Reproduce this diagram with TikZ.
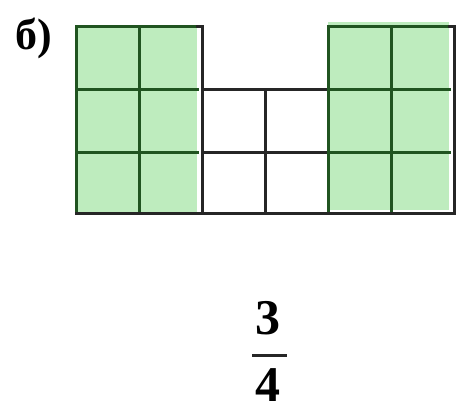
\documentclass[tikz,border=0pt]{standalone}
\usepackage{fontspec}
\usepackage{tikz}
\newfontfamily\labelfont{Liberation Serif}
\definecolor{cellgreen}{RGB}{190,236,190}
\definecolor{linegreen}{RGB}{32,84,32}
\definecolor{lineblack}{RGB}{38,38,38}
\begin{document}
\begin{tikzpicture}[x=1pt,y=1pt,
    gridline/.style={line width=3pt,lineblack,line cap=rect},
    greenline/.style={line width=3pt,linegreen,line cap=rect},
    txt/.style={inner sep=0pt,font=\labelfont}]
        \useasboundingbox (0,0) rectangle (457,412);
        % shaded parts
        \fill[cellgreen] (76,198) rectangle (197,385);
        \fill[cellgreen] (328,202) rectangle (449,390);
        % middle block
        \draw[gridline] (202,322) -- (328,322);
        \draw[gridline] (202,259) -- (328,259);
        \draw[gridline] (202,198) -- (328,198);
        \draw[gridline] (265,198) -- (265,322);
        % left and right blocks
        \foreach \x in {76,139} \draw[greenline] (\x,198) -- (\x,385);
        \foreach \x in {328,391} \draw[greenline] (\x,198) -- (\x,385);
        \foreach \y in {385,322,259} {
            \draw[greenline] (76,\y) -- (197,\y);
            \draw[greenline] (328,\y) -- (449,\y);
        }
        \draw[gridline] (197,385) -- (202,385);
        \draw[gridline] (449,385) -- (454,385);
        \draw[gridline] (202,198) -- (202,385);
        \draw[gridline] (454,198) -- (454,385);
        \draw[gridline] (76,198) -- (202,198);
        \draw[gridline] (328,198) -- (454,198);
        % labels
        \node[txt,font=\labelfont\bfseries\fontsize{44}{44}\selectfont] (label) at (34,374) {б)};
        \node[txt,font=\labelfont\bfseries\fontsize{50}{50}\selectfont] (num) at (268,94) {3};
        \node[txt,font=\labelfont\bfseries\fontsize{50}{50}\selectfont] (den) at (268,27) {4};
        \draw[line width=3pt,lineblack] (252,57) -- (287,57);
    \end{tikzpicture}
\end{document}
